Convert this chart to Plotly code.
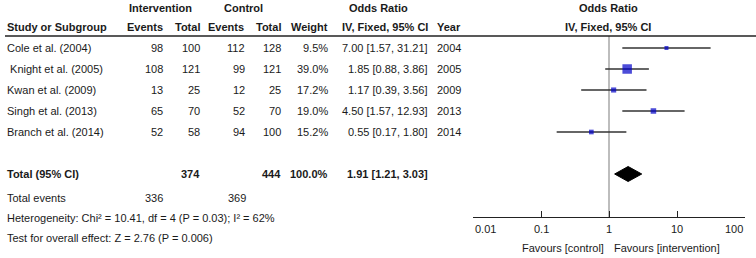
import plotly.graph_objects as go
import math

# ---------------- data ----------------
studies = ["Cole et al. (2004)", " Knight et al. (2005)", "Kwan et al. (2009)",
           "Singh et al. (2013)", "Branch et al. (2014)"]
int_events = [98, 108, 13, 65, 52]
int_total = [100, 121, 25, 70, 58]
ctl_events = [112, 99, 12, 52, 94]
ctl_total = [128, 121, 25, 70, 100]
weights = [9.5, 39.0, 17.2, 19.0, 15.2]
odds_ratio = [7.00, 1.85, 1.17, 4.50, 0.55]
ci_low = [1.57, 0.88, 0.39, 1.57, 0.17]
ci_high = [31.21, 3.86, 3.56, 12.93, 1.80]
years = [2004, 2005, 2009, 2013, 2014]

total_int = 374
total_ctl = 444
total_weight = 100.0
total_or = 1.91
total_lo = 1.21
total_hi = 3.03
events_int_total = 336
events_ctl_total = 369
heterogeneity = "Heterogeneity: Chi² = 10.41, df = 4 (P = 0.03); I² = 62%"
overall = "Test for overall effect: Z = 2.76 (P = 0.006)"

tick_values = [0.01, 0.1, 1, 10, 100]
tick_labels = ["0.01", "0.1", "1", "10", "100"]

# ---------------- layout helpers ----------------
W, H = 756, 258
FONT = "Liberation Sans, Arial, sans-serif"
FS = 11
TXT = "#1a1a1a"
row_y = [48 + 21 * i for i in range(len(studies))]
y_total = 174
y_events = 198
y_het = 218
y_test = 238
axis_y = 217
header_line_y = 36

fig = go.Figure()

# line of no effect (OR = 1), drawn as a trace on the forest axes
fig.add_trace(go.Scatter(
    x=[1, 1], y=[header_line_y, axis_y], mode="lines",
    line=dict(color="#9a9a9a", width=1.3), xaxis="x2", yaxis="y2",
    hoverinfo="skip", showlegend=False))

# CI lines + squares
sizes = [max(4, 9.5 * (w / max(weights)) ** 0.75) for w in weights]
fig.add_trace(go.Scatter(
    x=odds_ratio, y=row_y, mode="markers",
    marker=dict(symbol="square", size=sizes, color="#0000c8", line=dict(width=0)),
    error_x=dict(type="data", symmetric=False,
                 array=[h - o for h, o in zip(ci_high, odds_ratio)],
                 arrayminus=[o - l for o, l in zip(odds_ratio, ci_low)],
                 color="#333333", thickness=1.3, width=0),
    xaxis="x2", yaxis="y2", hoverinfo="skip", showlegend=False))

# diamond
fig.add_trace(go.Scatter(
    x=[total_lo, total_or, total_hi, total_or, total_lo],
    y=[y_total, y_total - 7.5, y_total, y_total + 7.5, y_total],
    mode="lines", fill="toself", fillcolor="black",
    line=dict(color="black", width=1), xaxis="x2", yaxis="y2",
    hoverinfo="skip", showlegend=False))

shapes = [
    dict(type="line", xref="x", yref="y", x0=5, x1=W, y0=header_line_y, y1=header_line_y,
         line=dict(color="#222222", width=1.6)),
]

ann = []


def t(x, y, s, anchor="right", bold=False, size=FS):
    if bold:
        s = "<b>" + s + "</b>"
    ann.append(dict(x=x, y=y, xref="x", yref="y", text=s, showarrow=False,
                    xanchor=anchor, yanchor="middle",
                    font=dict(family=FONT, size=size, color=TXT)))


# headers
t(160, 8, "Intervention", "center", True)
t(243, 8, "Control", "center", True)
t(378, 8, "Odds Ratio", "center", True)
t(608, 8, "Odds Ratio", "center", True)
t(5, 27, "Study or Subgroup", "left", True)
t(165, 27, "Events", "right", True)
t(202, 27, "Total", "right", True)
t(246, 27, "Events", "right", True)
t(283, 27, "Total", "right", True)
t(330, 27, "Weight", "right", True)
t(430, 27, "IV, Fixed, 95% CI", "right", True)
t(463, 27, "Year", "right", True)
t(608, 27, "IV, Fixed, 95% CI", "center", True)

for i, y in enumerate(row_y):
    t(5, y, studies[i], "left")
    t(165, y, str(int_events[i]))
    t(202, y, str(int_total[i]))
    t(247, y, str(ctl_events[i]))
    t(283, y, str(ctl_total[i]))
    t(330, y, f"{weights[i]:.1f}%")
    t(430, y, f"{odds_ratio[i]:.2f} [{ci_low[i]:.2f}, {ci_high[i]:.2f}]")
    t(463, y, str(years[i]))

t(5, y_total, "Total (95% CI)", "left", True)
t(202, y_total, str(total_int), "right", True)
t(283, y_total, str(total_ctl), "right", True)
t(330, y_total, f"{total_weight:.1f}%", "right", True)
t(430, y_total, f"{total_or:.2f} [{total_lo:.2f}, {total_hi:.2f}]", "right", True)

t(5, y_events, "Total events", "left")
t(165, y_events, str(events_int_total))
t(248, y_events, str(events_ctl_total))
t(5, y_het, heterogeneity, "left")
t(5, y_test, overall, "left")

# forest axis tick labels (end labels kept inside the axis)
for i, (v, lab) in enumerate(zip(tick_values, tick_labels)):
    anchor = "left" if i == 0 else ("right" if i == len(tick_values) - 1 else "center")
    ann.append(dict(x=math.log10(v), y=229, xref="x2", yref="y", text=lab, showarrow=False,
                    xanchor=anchor, yanchor="middle",
                    font=dict(family=FONT, size=FS, color=TXT)))

ann.append(dict(x=math.log10(0.9), y=248, xref="x2", yref="y", text="Favours [control]",
                showarrow=False, xanchor="right", yanchor="middle",
                font=dict(family=FONT, size=FS, color=TXT)))
ann.append(dict(x=math.log10(1.1), y=248, xref="x2", yref="y", text="Favours [intervention]",
                showarrow=False, xanchor="left", yanchor="middle",
                font=dict(family=FONT, size=FS, color=TXT)))

fig.update_layout(
    width=W, height=H, margin=dict(l=0, r=0, t=0, b=0, pad=0),
    paper_bgcolor="white", plot_bgcolor="rgba(0,0,0,0)",
    xaxis=dict(range=[0, W], domain=[0, 1], anchor="y", visible=False),
    yaxis=dict(range=[H, 0], domain=[0, 1], anchor="x", visible=False),
    xaxis2=dict(type="log", range=[-2, 2], domain=[473 / W, 745 / W], anchor="y2",
                showline=True, linecolor="#222222", linewidth=1.3,
                ticks="inside", ticklen=6, tickcolor="#222222", tickwidth=1.3,
                tickvals=tick_values, showticklabels=False, showgrid=False, zeroline=False),
    yaxis2=dict(range=[axis_y, 0], domain=[(H - axis_y) / H, 1], anchor="x2",
                visible=False),
    shapes=shapes, annotations=ann,
)

fig.write_html("out.html", config={"displayModeBar": False},
               post_script="document.body.style.margin='0';")
